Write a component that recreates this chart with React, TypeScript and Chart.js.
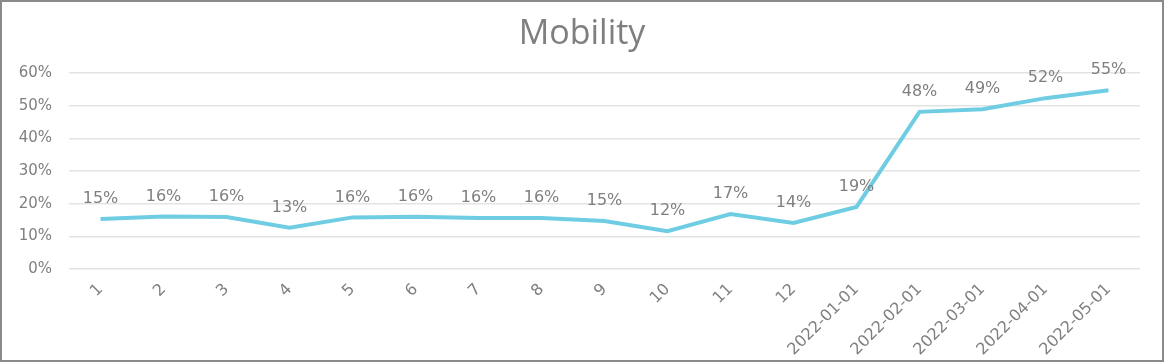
import React, { useEffect, useRef } from "react";
import { Chart, registerables } from "chart.js";

Chart.register(...registerables);

const TITLE = "Mobility";
const CATEGORIES = [
  "1", "2", "3", "4", "5", "6", "7", "8", "9", "10", "11", "12",
  "2022-01-01", "2022-02-01", "2022-03-01", "2022-04-01", "2022-05-01",
];
const MOBILITY = [
  0.153, 0.161, 0.159, 0.126, 0.158, 0.16, 0.156, 0.156, 0.147, 0.116,
  0.168, 0.141, 0.19, 0.481, 0.489, 0.523, 0.547,
];
const Y_MIN = 0;
const Y_MAX = 0.6;
const Y_STEP = 0.1;

const GRAY = "#7f7f7f";
const LINE = "#6fcde3";

const pct = (v: number) => `${Math.round(v * 100)}%`;

const labelPlugin = {
  id: "pointLabels",
  afterDatasetsDraw(chart: any) {
    const ctx = chart.ctx;
    const meta = chart.getDatasetMeta(0);
    const ds = chart.data.datasets[0];
    ctx.save();
    ctx.font = "16px 'DejaVu Sans'";
    ctx.fillStyle = GRAY;
    ctx.textAlign = "center";
    ctx.textBaseline = "middle";
    meta.data.forEach((pt: any, i: number) => {
      ctx.fillText(pct(ds.data[i]), pt.x, pt.y - 20);
    });
    ctx.restore();
  },
};

const titlePlugin = {
  id: "centeredTitle",
  afterDraw(chart: any) {
    const ctx = chart.ctx;
    ctx.save();
    ctx.font = "34px 'Open Sans'";
    ctx.fillStyle = GRAY;
    ctx.textAlign = "center";
    ctx.textBaseline = "middle";
    ctx.fillText(TITLE, chart.width / 2, 32);
    ctx.restore();
  },
};

export default function App() {
  const ref = useRef<HTMLCanvasElement | null>(null);
  useEffect(() => {
    if (!ref.current) return;
    const chart = new Chart(ref.current, {
      type: "line",
      data: {
        labels: CATEGORIES,
        datasets: [
          {
            label: TITLE,
            data: MOBILITY,
            borderColor: LINE,
            backgroundColor: LINE,
            borderWidth: 4,
            pointRadius: 0,
            tension: 0,
            fill: false,
          },
        ],
      },
      options: {
        animation: false,
        responsive: false,
        maintainAspectRatio: false,
        layout: { padding: { left: 0, right: 22, top: 71, bottom: 0 } },
        plugins: {
          legend: { display: false },
          tooltip: { enabled: false },
          title: { display: false },
        },
        scales: {
          x: {
            offset: true,
            grid: { display: false },
            border: { display: false },
            ticks: {
              color: GRAY,
              font: { family: "'DejaVu Sans'", size: 16 },
              minRotation: 45,
              maxRotation: 45,
              autoSkip: false,
              padding: 3,
            },
            afterFit: (s: any) => {
              s.height = 91;
            },
          },
          y: {
            min: Y_MIN,
            max: Y_MAX,
            grid: { color: "#e3e3e3", lineWidth: 1.5, drawTicks: false },
            border: { display: false },
            ticks: {
              stepSize: Y_STEP,
              color: GRAY,
              font: { family: "'DejaVu Sans'", size: 15 },
              padding: 17,
              callback: (v: any) => pct(Number(v)),
            },
            afterFit: (s: any) => {
              s.width = 67;
            },
          },
        },
      },
      plugins: [labelPlugin, titlePlugin],
    });
    return () => chart.destroy();
  }, []);

  return (
    <div
      style={{
        position: "fixed",
        left: 0,
        top: 0,
        width: 1164,
        height: 362,
        boxSizing: "border-box",
        border: "2px solid #8a8a8a",
        background: "#fff",
      }}
    >
      <canvas ref={ref} width={1160} height={358} style={{ display: "block" }} />
    </div>
  );
}
